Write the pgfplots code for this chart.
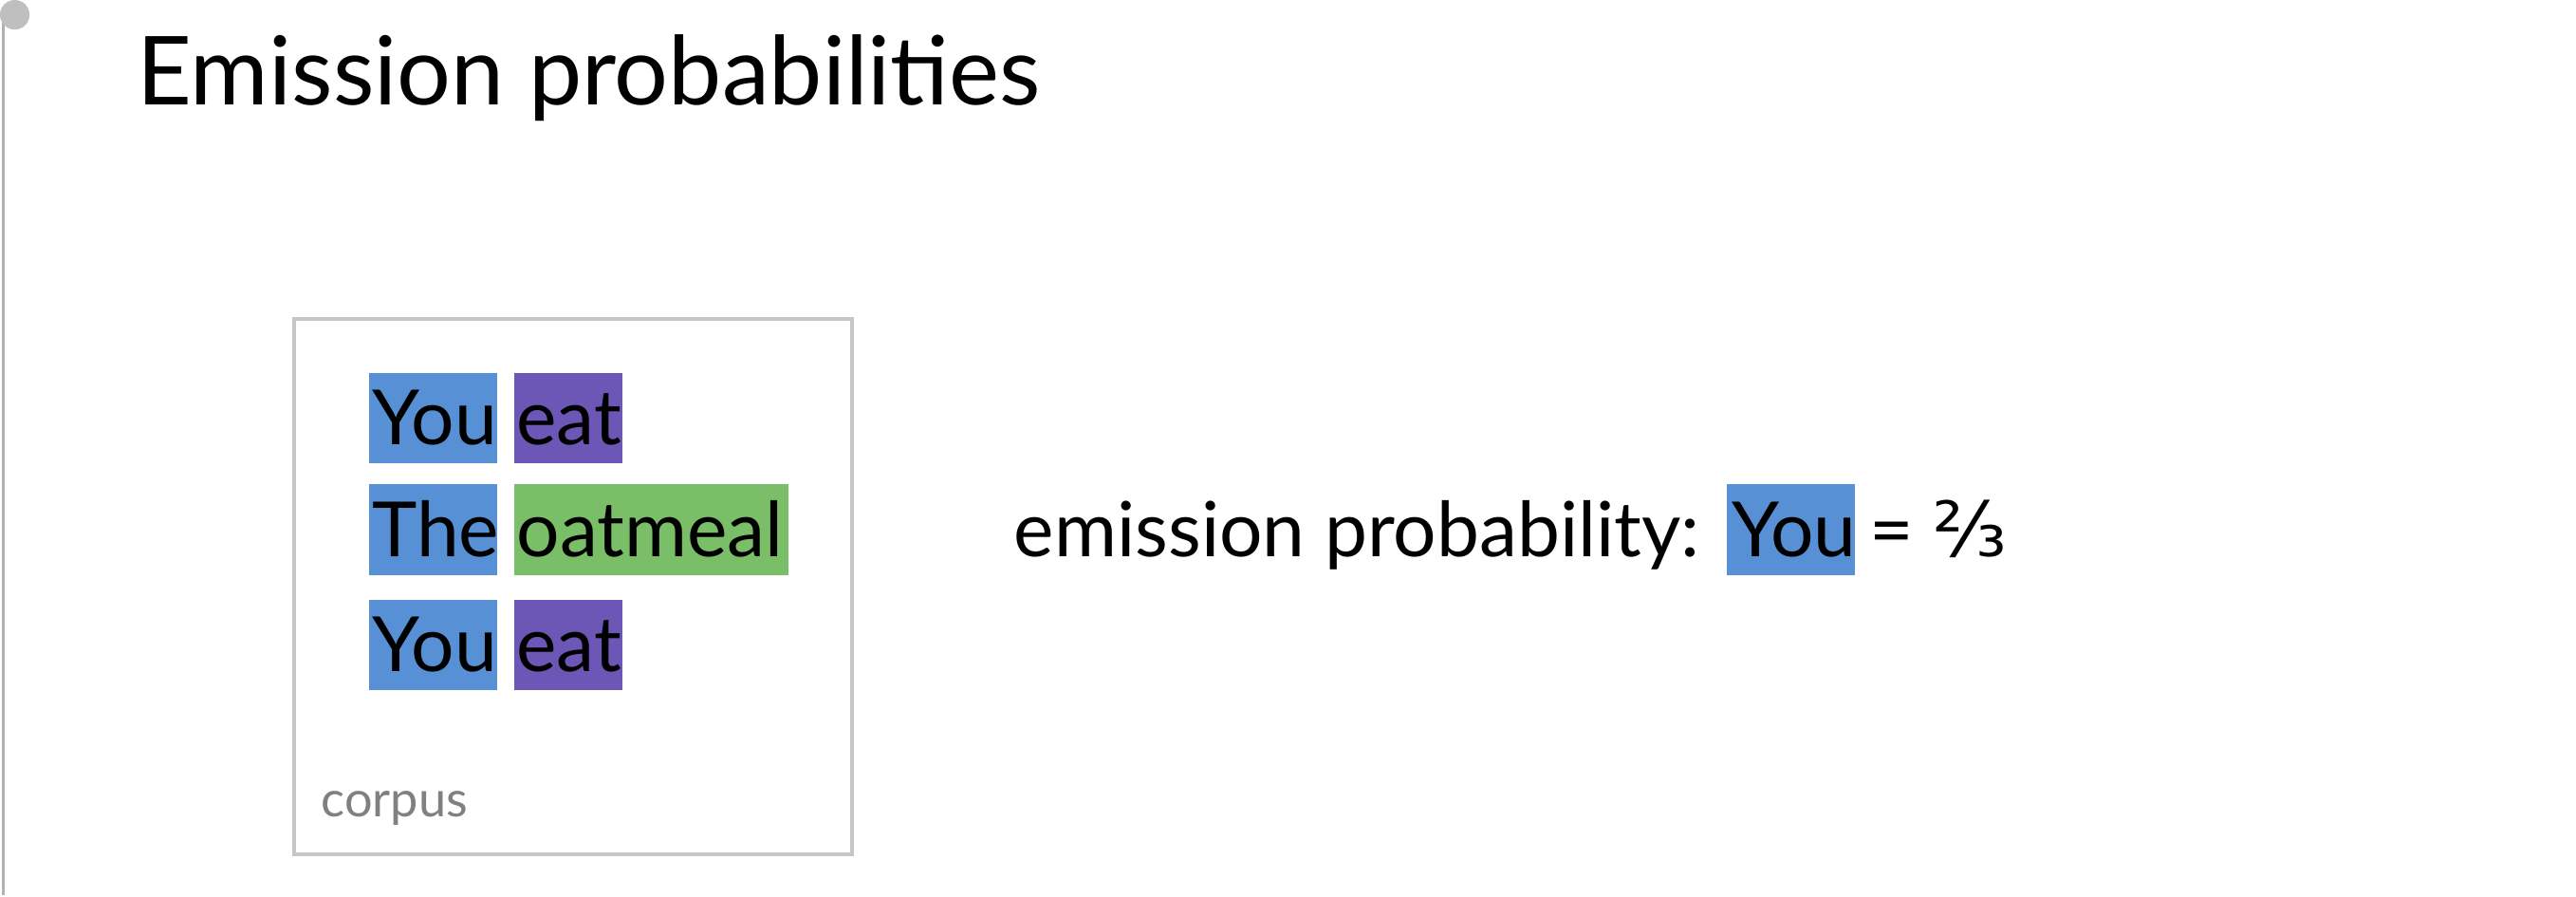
\documentclass[border=0pt]{standalone}
\usepackage{pgfplots}
\pgfplotsset{compat=1.18}
\usepackage{fontspec}
\setmainfont{Lato}
\newfontfamily\djv{DejaVu Sans}
\definecolor{cblue}{RGB}{88,144,214}
\definecolor{cpurp}{RGB}{108,86,182}
\definecolor{cgreen}{RGB}{122,190,104}
\begin{document}
\begin{tikzpicture}
\begin{axis}[width=15.68cm,height=5.36cm,scale only axis,xmin=0,xmax=1568,ymin=0,ymax=536,y dir=reverse,hide axis,clip=false]
\addplot[draw=none] coordinates {(0,0) (1568,536)};
% page frame
\draw[gray!60,line width=0.6pt] (axis cs:1,0) -- (axis cs:1,536);
\fill[gray!50] (axis cs:8,0) circle[radius=0.9mm];
\node[anchor=base west,font=\fontsize{16.5}{18}\selectfont] at (axis cs:70,55) {Emission probabilities};
% corpus box
\draw[gray!45,line width=0.6pt] (axis cs:178,185) rectangle (axis cs:518,511);
\fill[cblue] (axis cs:224,218) rectangle (axis cs:302,273);
\fill[cpurp] (axis cs:312,218) rectangle (axis cs:378,273);
\fill[cblue] (axis cs:224,286) rectangle (axis cs:302,341);
\fill[cgreen] (axis cs:312,286) rectangle (axis cs:479,341);
\fill[cblue] (axis cs:224,356) rectangle (axis cs:302,411);
\fill[cpurp] (axis cs:312,356) rectangle (axis cs:378,411);
\fill[cblue] (axis cs:1051,286) rectangle (axis cs:1129,341);
\tikzset{w/.style={anchor=base west,inner sep=0pt,font=\fontsize{13.2}{15}\selectfont}}
\node[w] at (axis cs:225,262) {You};
\node[w] at (axis cs:313,262) {eat};
\node[w] at (axis cs:225,330) {The};
\node[w] at (axis cs:313,330) {oatmeal};
\node[w] at (axis cs:225,400) {You};
\node[w] at (axis cs:313,400) {eat};
\node[w] at (axis cs:616,330) {emission probability:};
\node[w] at (axis cs:1053,330) {You};
\node[w] at (axis cs:1137,330) {= {\djv ⅔}};
\node[anchor=base west,inner sep=0pt,font=\fontsize{8.6}{10}\selectfont,text=gray] at (axis cs:194,488) {corpus};
\end{axis}
\end{tikzpicture}
\end{document}
